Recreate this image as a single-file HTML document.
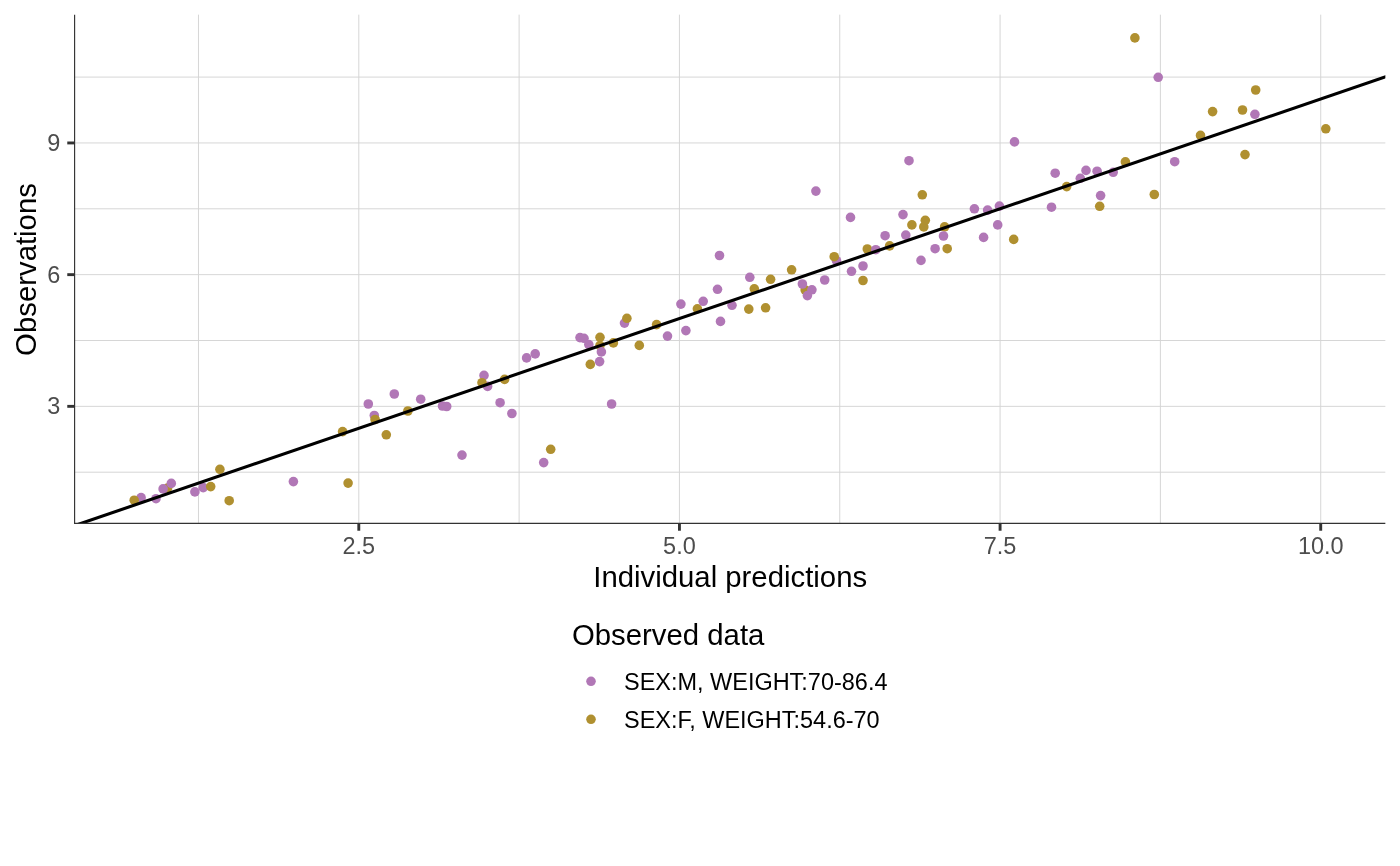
<!DOCTYPE html>
<html><head><meta charset="utf-8"><title>Observations vs individual predictions</title>
<style>
html,body{margin:0;padding:0;background:#fff;}
svg{display:block;}
text{font-family:"Liberation Sans",Arial,sans-serif;}
</style></head><body>
<svg width="1400" height="866" viewBox="0 0 1400 866">
<rect width="1400" height="866" fill="#ffffff"/>
<g stroke="#d4d4d4" stroke-width="0.95" fill="none">
<line x1="198.47125000000003" y1="14.67" x2="198.47125000000003" y2="523.4"/>
<line x1="519.11375" y1="14.67" x2="519.11375" y2="523.4"/>
<line x1="839.75625" y1="14.67" x2="839.75625" y2="523.4"/>
<line x1="1160.39875" y1="14.67" x2="1160.39875" y2="523.4"/>
<line x1="74.6" y1="77.09999999999997" x2="1385.33" y2="77.09999999999997"/>
<line x1="74.6" y1="208.79999999999995" x2="1385.33" y2="208.79999999999995"/>
<line x1="74.6" y1="340.5" x2="1385.33" y2="340.5"/>
<line x1="74.6" y1="472.19999999999993" x2="1385.33" y2="472.19999999999993"/>
</g>
<g stroke="#d4d4d4" stroke-width="0.95" fill="none">
<line x1="358.7925" y1="14.67" x2="358.7925" y2="523.4"/>
<line x1="679.4350000000001" y1="14.67" x2="679.4350000000001" y2="523.4"/>
<line x1="1000.0775" y1="14.67" x2="1000.0775" y2="523.4"/>
<line x1="1320.7200000000003" y1="14.67" x2="1320.7200000000003" y2="523.4"/>
<line x1="74.6" y1="142.95" x2="1385.33" y2="142.95"/>
<line x1="74.6" y1="274.65" x2="1385.33" y2="274.65"/>
<line x1="74.6" y1="406.34999999999997" x2="1385.33" y2="406.34999999999997"/>
</g>
<g>
<circle cx="141.10" cy="497.65" r="4.8" fill="#B177B6"/>
<circle cx="134.20" cy="500.20" r="4.8" fill="#B09030"/>
<circle cx="156.00" cy="498.70" r="4.8" fill="#B177B6"/>
<circle cx="167.60" cy="488.10" r="4.8" fill="#B09030"/>
<circle cx="163.10" cy="488.90" r="4.8" fill="#B177B6"/>
<circle cx="171.30" cy="483.40" r="4.8" fill="#B177B6"/>
<circle cx="194.90" cy="491.90" r="4.8" fill="#B177B6"/>
<circle cx="203.20" cy="487.60" r="4.8" fill="#B177B6"/>
<circle cx="210.70" cy="486.60" r="4.8" fill="#B09030"/>
<circle cx="219.90" cy="469.30" r="4.8" fill="#B09030"/>
<circle cx="229.20" cy="500.70" r="4.8" fill="#B09030"/>
<circle cx="293.40" cy="481.60" r="4.8" fill="#B177B6"/>
<circle cx="348.10" cy="483.10" r="4.8" fill="#B09030"/>
<circle cx="342.60" cy="431.60" r="4.8" fill="#B09030"/>
<circle cx="368.30" cy="404.00" r="4.8" fill="#B177B6"/>
<circle cx="374.30" cy="415.50" r="4.8" fill="#B177B6"/>
<circle cx="375.10" cy="419.50" r="4.8" fill="#B09030"/>
<circle cx="386.30" cy="434.80" r="4.8" fill="#B09030"/>
<circle cx="394.30" cy="394.00" r="4.8" fill="#B177B6"/>
<circle cx="407.90" cy="411.00" r="4.8" fill="#B09030"/>
<circle cx="420.70" cy="399.20" r="4.8" fill="#B177B6"/>
<circle cx="442.50" cy="406.00" r="4.8" fill="#B177B6"/>
<circle cx="446.70" cy="406.50" r="4.8" fill="#B177B6"/>
<circle cx="462.00" cy="455.10" r="4.8" fill="#B177B6"/>
<circle cx="484.00" cy="375.40" r="4.8" fill="#B177B6"/>
<circle cx="487.60" cy="386.40" r="4.8" fill="#B177B6"/>
<circle cx="482.00" cy="382.70" r="4.8" fill="#B09030"/>
<circle cx="500.10" cy="402.70" r="4.8" fill="#B177B6"/>
<circle cx="504.60" cy="379.40" r="4.8" fill="#B09030"/>
<circle cx="511.90" cy="413.50" r="4.8" fill="#B177B6"/>
<circle cx="526.60" cy="357.90" r="4.8" fill="#B177B6"/>
<circle cx="535.20" cy="353.90" r="4.8" fill="#B177B6"/>
<circle cx="543.70" cy="462.60" r="4.8" fill="#B177B6"/>
<circle cx="550.70" cy="449.30" r="4.8" fill="#B09030"/>
<circle cx="580.00" cy="337.60" r="4.8" fill="#B177B6"/>
<circle cx="584.00" cy="338.30" r="4.8" fill="#B177B6"/>
<circle cx="588.80" cy="344.60" r="4.8" fill="#B177B6"/>
<circle cx="600.00" cy="337.30" r="4.8" fill="#B09030"/>
<circle cx="600.00" cy="345.50" r="4.8" fill="#B09030"/>
<circle cx="601.40" cy="351.90" r="4.8" fill="#B177B6"/>
<circle cx="599.60" cy="361.60" r="4.8" fill="#B177B6"/>
<circle cx="590.30" cy="364.40" r="4.8" fill="#B09030"/>
<circle cx="611.60" cy="404.00" r="4.8" fill="#B177B6"/>
<circle cx="613.40" cy="342.90" r="4.8" fill="#B09030"/>
<circle cx="624.50" cy="323.10" r="4.8" fill="#B177B6"/>
<circle cx="626.90" cy="318.30" r="4.8" fill="#B09030"/>
<circle cx="639.30" cy="345.40" r="4.8" fill="#B09030"/>
<circle cx="656.60" cy="324.60" r="4.8" fill="#B09030"/>
<circle cx="667.50" cy="336.10" r="4.8" fill="#B177B6"/>
<circle cx="680.90" cy="304.10" r="4.8" fill="#B177B6"/>
<circle cx="685.90" cy="330.60" r="4.8" fill="#B177B6"/>
<circle cx="697.40" cy="308.80" r="4.8" fill="#B09030"/>
<circle cx="703.20" cy="301.30" r="4.8" fill="#B177B6"/>
<circle cx="717.50" cy="289.30" r="4.8" fill="#B177B6"/>
<circle cx="719.50" cy="255.50" r="4.8" fill="#B177B6"/>
<circle cx="720.50" cy="321.40" r="4.8" fill="#B177B6"/>
<circle cx="732.00" cy="305.30" r="4.8" fill="#B177B6"/>
<circle cx="748.80" cy="309.10" r="4.8" fill="#B09030"/>
<circle cx="749.80" cy="277.30" r="4.8" fill="#B177B6"/>
<circle cx="754.30" cy="288.80" r="4.8" fill="#B09030"/>
<circle cx="765.60" cy="307.80" r="4.8" fill="#B09030"/>
<circle cx="770.60" cy="279.30" r="4.8" fill="#B09030"/>
<circle cx="791.60" cy="269.80" r="4.8" fill="#B09030"/>
<circle cx="805.20" cy="290.00" r="4.8" fill="#B09030"/>
<circle cx="802.40" cy="284.00" r="4.8" fill="#B177B6"/>
<circle cx="811.90" cy="289.80" r="4.8" fill="#B177B6"/>
<circle cx="807.40" cy="295.60" r="4.8" fill="#B177B6"/>
<circle cx="815.90" cy="191.10" r="4.8" fill="#B177B6"/>
<circle cx="824.70" cy="280.00" r="4.8" fill="#B177B6"/>
<circle cx="836.50" cy="260.70" r="4.8" fill="#B177B6"/>
<circle cx="834.20" cy="256.70" r="4.8" fill="#B09030"/>
<circle cx="850.50" cy="217.40" r="4.8" fill="#B177B6"/>
<circle cx="851.50" cy="271.30" r="4.8" fill="#B177B6"/>
<circle cx="863.00" cy="266.00" r="4.8" fill="#B177B6"/>
<circle cx="863.00" cy="280.50" r="4.8" fill="#B09030"/>
<circle cx="867.30" cy="249.00" r="4.8" fill="#B09030"/>
<circle cx="875.80" cy="249.70" r="4.8" fill="#B177B6"/>
<circle cx="885.10" cy="235.70" r="4.8" fill="#B177B6"/>
<circle cx="889.60" cy="245.90" r="4.8" fill="#B09030"/>
<circle cx="903.00" cy="214.60" r="4.8" fill="#B177B6"/>
<circle cx="905.80" cy="235.10" r="4.8" fill="#B177B6"/>
<circle cx="911.90" cy="224.90" r="4.8" fill="#B09030"/>
<circle cx="922.30" cy="194.80" r="4.8" fill="#B09030"/>
<circle cx="923.80" cy="226.90" r="4.8" fill="#B09030"/>
<circle cx="925.30" cy="220.30" r="4.8" fill="#B09030"/>
<circle cx="921.00" cy="260.40" r="4.8" fill="#B177B6"/>
<circle cx="935.10" cy="248.70" r="4.8" fill="#B177B6"/>
<circle cx="944.60" cy="226.90" r="4.8" fill="#B09030"/>
<circle cx="943.50" cy="236.00" r="4.8" fill="#B177B6"/>
<circle cx="947.20" cy="248.70" r="4.8" fill="#B09030"/>
<circle cx="909.00" cy="160.70" r="4.8" fill="#B177B6"/>
<circle cx="974.40" cy="208.80" r="4.8" fill="#B177B6"/>
<circle cx="983.60" cy="237.40" r="4.8" fill="#B177B6"/>
<circle cx="987.60" cy="210.10" r="4.8" fill="#B177B6"/>
<circle cx="997.70" cy="224.90" r="4.8" fill="#B177B6"/>
<circle cx="999.40" cy="206.10" r="4.8" fill="#B177B6"/>
<circle cx="1014.50" cy="141.90" r="4.8" fill="#B177B6"/>
<circle cx="1013.70" cy="239.40" r="4.8" fill="#B09030"/>
<circle cx="1051.50" cy="207.20" r="4.8" fill="#B177B6"/>
<circle cx="1055.20" cy="173.20" r="4.8" fill="#B177B6"/>
<circle cx="1066.70" cy="186.60" r="4.8" fill="#B09030"/>
<circle cx="1080.30" cy="178.30" r="4.8" fill="#B177B6"/>
<circle cx="1086.00" cy="170.40" r="4.8" fill="#B177B6"/>
<circle cx="1097.10" cy="171.20" r="4.8" fill="#B177B6"/>
<circle cx="1100.60" cy="195.60" r="4.8" fill="#B177B6"/>
<circle cx="1099.70" cy="206.30" r="4.8" fill="#B09030"/>
<circle cx="1113.20" cy="172.30" r="4.8" fill="#B177B6"/>
<circle cx="1125.40" cy="161.90" r="4.8" fill="#B09030"/>
<circle cx="1154.30" cy="194.50" r="4.8" fill="#B09030"/>
<circle cx="1174.70" cy="161.70" r="4.8" fill="#B177B6"/>
<circle cx="1200.50" cy="135.40" r="4.8" fill="#B09030"/>
<circle cx="1212.60" cy="111.60" r="4.8" fill="#B09030"/>
<circle cx="1242.50" cy="110.00" r="4.8" fill="#B09030"/>
<circle cx="1245.00" cy="154.60" r="4.8" fill="#B09030"/>
<circle cx="1134.90" cy="37.90" r="4.8" fill="#B09030"/>
<circle cx="1158.20" cy="77.30" r="4.8" fill="#B177B6"/>
<circle cx="1254.90" cy="114.30" r="4.8" fill="#B177B6"/>
<circle cx="1255.70" cy="90.00" r="4.8" fill="#B09030"/>
<circle cx="1325.80" cy="128.80" r="4.8" fill="#B09030"/>
</g>
<clipPath id="pc"><rect x="74.6" y="14.67" width="1310.73" height="508.72999999999996"/></clipPath>
<line x1="38.15" y1="538.05" x2="1448.98" y2="55.15" stroke="#000" stroke-width="3.1" clip-path="url(#pc)"/>
<g stroke="#333" stroke-width="1.15" fill="none"><line x1="74.6" y1="14.67" x2="74.6" y2="524.0"/><line x1="74.0" y1="523.4" x2="1385.33" y2="523.4"/></g>
<g stroke="#333" stroke-width="2.9" fill="none">
<line x1="358.7925" y1="523.4" x2="358.7925" y2="530.73"/>
<line x1="679.4350000000001" y1="523.4" x2="679.4350000000001" y2="530.73"/>
<line x1="1000.0775" y1="523.4" x2="1000.0775" y2="530.73"/>
<line x1="1320.7200000000003" y1="523.4" x2="1320.7200000000003" y2="530.73"/>
<line x1="67.27" y1="142.95" x2="74.6" y2="142.95"/>
<line x1="67.27" y1="274.65" x2="74.6" y2="274.65"/>
<line x1="67.27" y1="406.34999999999997" x2="74.6" y2="406.34999999999997"/>
</g>
<g font-size="23.47" fill="#4d4d4d">
<text x="358.7925" y="553.9" text-anchor="middle">2.5</text>
<text x="679.4350000000001" y="553.9" text-anchor="middle">5.0</text>
<text x="1000.0775" y="553.9" text-anchor="middle">7.5</text>
<text x="1320.7200000000003" y="553.9" text-anchor="middle">10.0</text>
<text x="60.3" y="150.95" text-anchor="end">9</text>
<text x="60.3" y="282.65" text-anchor="end">6</text>
<text x="60.3" y="414.34999999999997" text-anchor="end">3</text>
</g>
<g font-size="29.33" fill="#000">
<text x="730.2" y="587" text-anchor="middle">Individual predictions</text>
<text transform="translate(36.4,269.5) rotate(-90)" text-anchor="middle">Observations</text>
<text x="572" y="644.5">Observed data</text>
</g>
<circle cx="591" cy="681.3" r="4.8" fill="#B177B6"/><circle cx="591" cy="719.3" r="4.8" fill="#B09030"/>
<g font-size="23.47" fill="#000">
<text x="624" y="690">SEX:M, WEIGHT:70-86.4</text>
<text x="624" y="728">SEX:F, WEIGHT:54.6-70</text>
</g>
</svg>
</body></html>
